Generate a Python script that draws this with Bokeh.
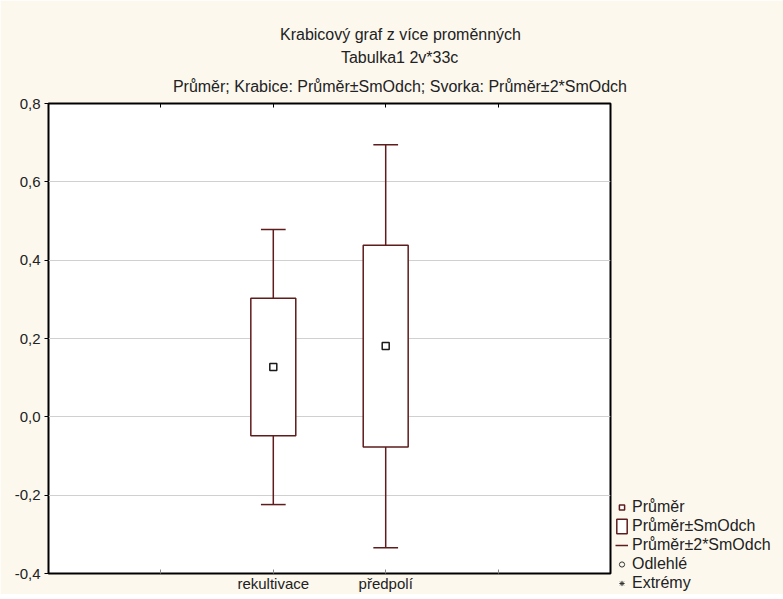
import math
from bokeh.plotting import figure
from bokeh.models import (Range1d, FixedTicker, CustomJSTickFormatter, LinearAxis,
                          Title, Legend, LegendItem, ColumnDataSource)
from bokeh.embed import file_html
from bokeh.resources import INLINE

# ---- data ----
categories = ["rekultivace", "předpolí"]
mean_vals = [0.127, 0.181]
box_top = [0.303, 0.438]
box_bottom = [-0.048, -0.077]
whisker_top = [0.478, 0.695]
whisker_bottom = [-0.224, -0.334]
y_ticks = [-0.4, -0.2, 0.0, 0.2, 0.4, 0.6, 0.8]
x_ticks = [1, 2, 3, 4]
title_lines = ["Krabicový graf z více proměnných",
               "Tabulka1 2v*33c",
               "Průměr; Krabice: Průměr±SmOdch; Svorka: Průměr±2*SmOdch"]
legend_labels = ["Průměr", "Průměr±SmOdch", "Průměr±2*SmOdch", "Odlehlé", "Extrémy"]

# ---- styles ----
FONT = "Liberation Sans"
MAROON = "#5e1c1c"
TXT = "#222222"
BOX_W = 0.4
CAP_HALF = 0.11
FIG_W, FIG_H = 775, 591
LEFT, TOP, FRAME_W, FRAME_H = 48, 103, 562, 470
TITLE_PX = 16
TITLE_CENTER = 352  # px from frame left
TITLE_STANDOFF = [6, 2, 18]  # line 1, 2, 3

# Arial / Liberation Sans advance widths (per 1000 em) for title centring
_W = {'K': 667, 'r': 333, 'a': 556, 'b': 556, 'i': 222, 'c': 500, 'o': 556, 'v': 500,
      'ý': 500, ' ': 278, 'g': 556, 'f': 278, 'z': 500, 'í': 278, 'e': 556, 'p': 556,
      'm': 833, 'ě': 556, 'n': 556, 'h': 556, 'T': 611, 'u': 556, 'l': 222, 'k': 500,
      '1': 556, '2': 556, '3': 556, '*': 389, 'P': 667, 'ů': 556, ';': 278, ':': 278,
      '±': 584, 'S': 667, 'O': 778, 'd': 556}


def text_w(s, px):
    return sum(_W.get(ch, 556) for ch in s) * px / 1000.0


xpos = [i + 2 for i in range(len(categories))]
src = ColumnDataSource(dict(
    x=xpos, mean=mean_vals, bt=box_top, bb=box_bottom, wt=whisker_top, wb=whisker_bottom,
    xl=[x - CAP_HALF for x in xpos], xr=[x + CAP_HALF for x in xpos],
))

p = figure(width=FIG_W, height=FIG_H, x_range=Range1d(0, 5), y_range=Range1d(-0.4, 0.8),
           output_backend="svg", toolbar_location=None,
           frame_width=FRAME_W, frame_height=FRAME_H,
           min_border_left=LEFT, min_border_right=FIG_W - LEFT - FRAME_W,
           min_border_top=TOP, min_border_bottom=FIG_H - TOP - FRAME_H,
           background_fill_color="white", border_fill_color="#fcf8ee",
           outline_line_color="black", outline_line_width=2)

# grid
p.xgrid.grid_line_color = None
p.ygrid.grid_line_color = "#d0d0d0"
p.ygrid.grid_line_width = 1

# left axis
p.yaxis.ticker = FixedTicker(ticks=y_ticks)
p.yaxis.formatter = CustomJSTickFormatter(code="return tick.toFixed(1).replace('.', ',')")
p.yaxis.axis_line_color = None
p.yaxis.major_tick_out = 4
p.yaxis.major_tick_in = 0
p.yaxis.minor_tick_line_color = None
p.yaxis.major_label_text_font = FONT
p.yaxis.major_label_text_font_size = "15px"
p.yaxis.major_label_text_color = TXT
p.yaxis.major_label_standoff = 4

# bottom axis
overrides = {t: "" for t in x_ticks}
for x, c in zip(xpos, categories):
    overrides[x] = c
p.xaxis.ticker = FixedTicker(ticks=x_ticks)
p.xaxis.major_label_overrides = overrides
p.xaxis.axis_line_color = None
p.xaxis.major_tick_in = 4
p.xaxis.major_tick_out = 0
p.xaxis.major_tick_line_color = "#888888"
p.xaxis.minor_tick_line_color = None
p.xaxis.major_label_text_font = FONT
p.xaxis.major_label_text_font_size = "15px"
p.xaxis.major_label_text_color = TXT
p.xaxis.major_label_standoff = 1

# top axis (ticks only)
top_ax = LinearAxis(ticker=FixedTicker(ticks=x_ticks), major_label_overrides={t: "" for t in x_ticks},
                    axis_line_color=None, major_tick_in=4, major_tick_out=0,
                    minor_tick_line_color=None, major_label_text_font_size="1px",
                    major_label_standoff=0, major_tick_line_color="black")
p.add_layout(top_ax, "above")

# whiskers
p.segment(x0="x", y0="bt", x1="x", y1="wt", source=src, line_color=MAROON, line_width=1.5)
p.segment(x0="x", y0="bb", x1="x", y1="wb", source=src, line_color=MAROON, line_width=1.5)
p.segment(x0="xl", y0="wt", x1="xr", y1="wt", source=src, line_color=MAROON, line_width=1.5)
p.segment(x0="xl", y0="wb", x1="xr", y1="wb", source=src, line_color=MAROON, line_width=1.5)

# boxes
p.vbar(x="x", width=BOX_W, top="bt", bottom="bb", source=src,
       fill_color="white", line_color=MAROON, line_width=1.5)

# means
p.scatter(x="x", y="mean", source=src, marker="square", size=7,
          fill_color="white", line_color="#1a1a1a", line_width=1.5)

# legend-only renderers (one item far outside the visible range)
off = ColumnDataSource(dict(x=[-100], y=[-100], x1=[-99], y1=[-99]))
leg_mean = p.scatter(x="x", y="y", source=off, marker="square", size=6,
                     fill_color="white", line_color=MAROON, line_width=1.5)
leg_box = p.quad(left="x", right="x1", bottom="y", top="y1", source=off,
                 fill_color="white", line_color=MAROON, line_width=1.5)
leg_wh = p.segment(x0="x", y0="y", x1="x1", y1="y1", source=off,
                   line_color=MAROON, line_width=1.5)
leg_out = p.scatter(x="x", y="y", source=off, marker="circle", size=6,
                    fill_color=None, line_color="#333333", line_width=1)
leg_ext = p.scatter(x="x", y="y", source=off, marker="asterisk", size=8,
                    line_color="#333333", line_width=1)

legend = Legend(items=[LegendItem(label=legend_labels[0], renderers=[leg_mean]),
                       LegendItem(label=legend_labels[1], renderers=[leg_box]),
                       LegendItem(label=legend_labels[2], renderers=[leg_wh]),
                       LegendItem(label=legend_labels[3], renderers=[leg_out]),
                       LegendItem(label=legend_labels[4], renderers=[leg_ext])],
                location=(5, -19), background_fill_alpha=0, border_line_alpha=0,
                label_text_font=FONT, label_text_font_size="16px", label_text_color=TXT,
                glyph_width=13, glyph_height=18, label_height=18, spacing=1,
                padding=0, margin=0, label_standoff=4)
p.add_layout(legend, "right")

# titles (first added sits closest to the frame)
for txt, so in reversed(list(zip(title_lines, TITLE_STANDOFF))):
    off_px = TITLE_CENTER - text_w(txt, TITLE_PX) / 2.0
    p.add_layout(Title(text=txt, align="left", offset=off_px, standoff=so,
                       text_font=FONT, text_font_size=f"{TITLE_PX}px",
                       text_font_style="normal", text_color=TXT), "above")

open("out.html", "w").write(file_html(p, INLINE))
